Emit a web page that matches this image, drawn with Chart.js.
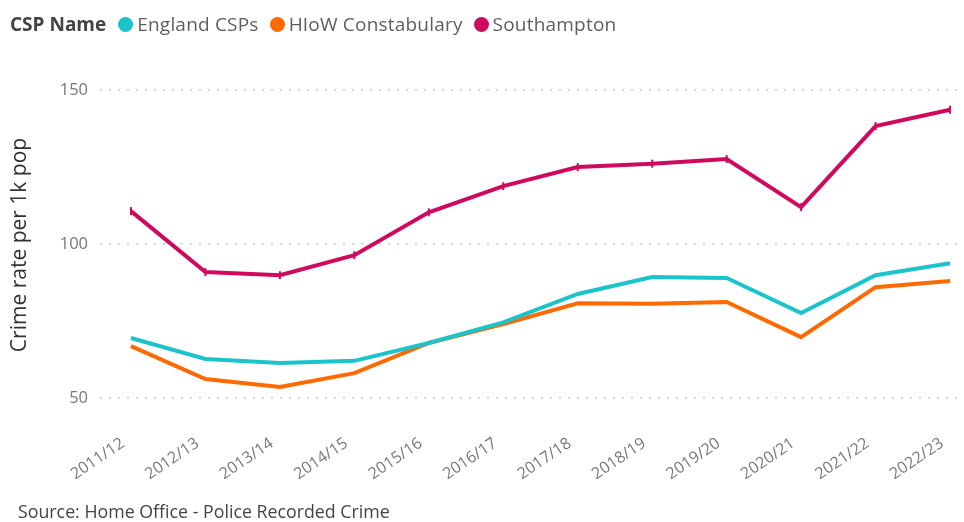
<!DOCTYPE html>
<html>
<head>
<meta charset="utf-8">
<script src="https://cdn.jsdelivr.net/npm/chart.js@4/dist/chart.umd.min.js"></script>
<style>
  html, body { margin: 0; padding: 0; background: #fff; }
  body { width: 964px; height: 522px; position: relative; overflow: hidden; font-family: "Open Sans", "Noto Sans", sans-serif; }
  #legend { position: absolute; left: 10px; top: 11px; display: flex; align-items: center; font-size: 19px; color: #605E5C; white-space: nowrap; letter-spacing: 0.2px; }
  #legend .title { font-weight: bold; color: #444; margin-right: 12px; font-size: 19px; letter-spacing: 0; }
  #legend .item { display: flex; align-items: center; margin-right: 11px; }
  #legend .dot { width: 15px; height: 15px; border-radius: 50%; margin-right: 4px; }
  #source { position: absolute; left: 18px; top: 499px; font-size: 17.8px; color: #444; white-space: nowrap; }
  #wrap { position: absolute; left: 0; top: 0; width: 964px; height: 522px; }
</style>
</head>
<body>
<div id="wrap"><canvas id="c" width="964" height="522"></canvas></div>
<div id="legend"></div>
<div id="source">Source: Home Office - Police Recorded Crime</div>
<script>
const categories = ["2011/12","2012/13","2013/14","2014/15","2015/16","2016/17","2017/18","2018/19","2019/20","2020/21","2021/22","2022/23"];
const englandCSPs = [69.5, 62.7, 61.4, 62.1, 67.9, 74.6, 83.8, 89.3, 89.0, 77.6, 89.9, 93.8];
const hiowConstabulary = [66.9, 56.2, 53.6, 58.1, 67.9, 74.0, 80.8, 80.6, 81.2, 69.8, 86.0, 88.0];
const southampton = [110.7, 90.9, 89.9, 96.4, 110.3, 118.8, 125.0, 126.1, 127.6, 112.0, 138.3, 143.6];
const yTicks = [50, 100, 150];
const seriesNames = ["England CSPs", "HIoW Constabulary", "Southampton"];
const seriesColors = ["#1CC3CB", "#FF6A00", "#CF0A5E"];

const legend = document.getElementById('legend');
legend.innerHTML = '<span class="title">CSP Name</span>' + seriesNames.map((n, i) =>
  '<span class="item"><span class="dot" style="background:' + seriesColors[i] + '"></span>' + n + '</span>').join('');

const toXY = arr => arr.map((v, i) => ({ x: i, y: v }));
const FONT = "'Open Sans', 'Noto Sans', sans-serif";

new Chart(document.getElementById('c'), {
  type: 'line',
  data: {
    datasets: [
      { label: seriesNames[0], data: toXY(englandCSPs), borderColor: seriesColors[0], backgroundColor: seriesColors[0], borderWidth: 4, pointRadius: 0, tension: 0 },
      { label: seriesNames[1], data: toXY(hiowConstabulary), borderColor: seriesColors[1], backgroundColor: seriesColors[1], borderWidth: 4, pointRadius: 0, tension: 0 },
      { label: seriesNames[2], data: toXY(southampton), borderColor: seriesColors[2], backgroundColor: seriesColors[2], borderWidth: 4, pointRadius: 4, pointStyle: 'line', pointRotation: 90, pointBorderWidth: 2, pointBorderColor: seriesColors[2], tension: 0 }
    ]
  },
  options: {
    responsive: false,
    animation: false,
    layout: { padding: { top: 70, bottom: 42, left: 0, right: 0 } },
    plugins: { legend: { display: false }, tooltip: { enabled: false } },
    scales: {
      x: {
        type: 'linear',
        min: -0.416,
        max: 11.107,
        afterBuildTicks: s => { s.ticks = categories.map((c, i) => ({ value: i })); },
        afterFit: s => { s.height = 60; s.paddingLeft = 0; s.paddingRight = 0; },
        grid: { display: false, drawTicks: false },
        border: { display: false },
        ticks: {
          autoSkip: false,
          minRotation: 34,
          maxRotation: 34,
          padding: 14,
          labelOffset: -8,
          color: '#777',
          font: { family: FONT, size: 16 },
          callback: v => categories[v]
        }
      },
      y: {
        min: 42.9,
        max: 156.5,
        afterBuildTicks: s => { s.ticks = yTicks.map(v => ({ value: v })); },
        afterFit: s => { s.width = 100; },
        grid: { color: '#C8C8C8', lineWidth: 1.5, drawTicks: false },
        border: { display: false, dash: [2, 7] },
        ticks: {
          padding: 12,
          color: '#777',
          font: { family: FONT, size: 16.5 }
        },
        title: {
          display: true,
          text: 'Crime rate per 1k pop',
          color: '#333',
          padding: { top: 7, bottom: 0 },
          font: { family: FONT, size: 21 }
        }
      }
    }
  }
});
</script>
</body>
</html>
